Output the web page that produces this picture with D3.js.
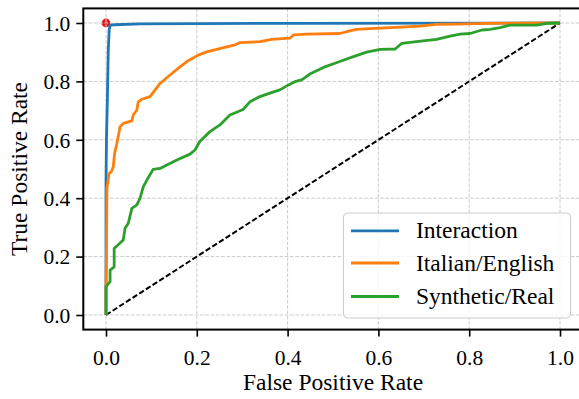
<!DOCTYPE html>
<html>
<head>
<meta charset="utf-8">
<script src="https://cdn.jsdelivr.net/npm/d3@7"></script>
<style>
html,body{margin:0;padding:0;background:#fff;}
svg{display:block;}
</style>
</head>
<body>
<svg id="chart" width="579" height="399"></svg>
<script>
// ---- data ----
const seriesNames = ["Interaction", "Italian/English", "Synthetic/Real"];
const seriesColors = ["#1f77b4", "#ff7f0e", "#2ca02c"];

const interactionFpr = [0, 0, 0.000, 0.001, 0.003, 0.005, 0.007, 0.009, 0.02, 0.075, 0.4, 1.0];
const interactionTpr = [0, 0.19, 0.45, 0.60, 0.736, 0.907, 0.976, 0.993, 0.994, 0.997, 0.999, 1.0];

const italianFpr = [0, 0, 0.001, 0.002, 0.007, 0.012, 0.016, 0.019, 0.024, 0.031, 0.038, 0.057, 0.060, 0.068, 0.071, 0.079, 0.097,
  0.119, 0.141, 0.163, 0.178, 0.203, 0.222, 0.244, 0.266, 0.284, 0.295, 0.339, 0.365, 0.405, 0.413, 0.442, 0.515,
  0.537, 0.552, 0.581, 0.626, 0.692, 0.728, 0.772, 0.838, 1.0];
const italianTpr = [0, 0.103, 0.211, 0.434, 0.485, 0.491, 0.508, 0.554, 0.588, 0.645, 0.656, 0.665, 0.685, 0.702, 0.730, 0.739, 0.748,
  0.793, 0.822, 0.850, 0.868, 0.890, 0.901, 0.910, 0.918, 0.925, 0.933, 0.936, 0.944, 0.948, 0.959, 0.962, 0.964,
  0.973, 0.978, 0.981, 0.984, 0.989, 0.995, 0.996, 0.999, 1.0];

const syntheticFpr = [0, 0, 0.009, 0.009, 0.018, 0.018, 0.038, 0.042, 0.049, 0.057, 0.068, 0.075, 0.082, 0.090, 0.104, 0.119,
  0.134, 0.156, 0.185, 0.196, 0.207, 0.229, 0.251, 0.273, 0.302, 0.317, 0.339, 0.361, 0.383, 0.402, 0.416, 0.431,
  0.449, 0.479, 0.515, 0.545, 0.574, 0.604, 0.637, 0.651, 0.684, 0.728, 0.758, 0.780, 0.802, 0.828, 0.846, 0.868,
  0.890, 0.949, 0.971, 1.0];
const syntheticTpr = [0, 0.097, 0.114, 0.154, 0.165, 0.228, 0.257, 0.297, 0.314, 0.365, 0.377, 0.400, 0.439, 0.462, 0.499, 0.502,
  0.514, 0.531, 0.551, 0.565, 0.595, 0.628, 0.651, 0.685, 0.704, 0.730, 0.748, 0.760, 0.771, 0.788, 0.799, 0.805,
  0.825, 0.848, 0.868, 0.885, 0.900, 0.910, 0.911, 0.930, 0.936, 0.944, 0.955, 0.962, 0.964, 0.976, 0.978, 0.984,
  0.993, 0.993, 0.999, 1.0];

const chancePoints = [[0, 0], [1, 1]];
const markerPoint = [0, 1];
const xTicks = [0, 0.2, 0.4, 0.6, 0.8, 1.0];
const yTicks = [0, 0.2, 0.4, 0.6, 0.8, 1.0];
const xLabel = "False Positive Rate";
const yLabel = "True Positive Rate";

// ---- layout ----
const FONT = "'Liberation Serif', 'DejaVu Serif', serif";
const svg = d3.select("#chart");
const plot = {left: 83.3, right: 582.7, top: 8.4, bottom: 329.6};
const x = d3.scaleLinear().domain([-0.05, 1.05]).range([plot.left, plot.right]);
const y = d3.scaleLinear().domain([-0.05, 1.05]).range([plot.bottom, plot.top]);
const tickFont = 21.5, labelFont = 23.5;

const series = [
  {name: seriesNames[0], color: seriesColors[0], pts: d3.zip(interactionFpr, interactionTpr)},
  {name: seriesNames[1], color: seriesColors[1], pts: d3.zip(italianFpr, italianTpr)},
  {name: seriesNames[2], color: seriesColors[2], pts: d3.zip(syntheticFpr, syntheticTpr)}
];

// red marker (below grid)
svg.append("circle")
  .attr("cx", x(markerPoint[0])).attr("cy", y(markerPoint[1]))
  .attr("r", 4.4).attr("fill", "#e41a1c");

// grid
const grid = svg.append("g");
grid.selectAll("line.gx").data(xTicks).join("line")
  .attr("x1", d => x(d)).attr("x2", d => x(d))
  .attr("y1", plot.top).attr("y2", plot.bottom)
  .attr("stroke", "#cccccc").attr("stroke-width", 1).attr("stroke-dasharray", "3.7,1.6");
grid.selectAll("line.gy").data(yTicks).join("line")
  .attr("y1", d => y(d)).attr("y2", d => y(d))
  .attr("x1", plot.left).attr("x2", plot.right)
  .attr("stroke", "#cccccc").attr("stroke-width", 1).attr("stroke-dasharray", "3.7,1.6");

// chance line
const line = d3.line().x(d => x(d[0])).y(d => y(d[1]));
svg.append("path").datum(chancePoints).attr("d", line)
  .attr("fill", "none").attr("stroke", "#000").attr("stroke-width", 2)
  .attr("stroke-dasharray", "5.5,2.4");

// curves
series.forEach(s => {
  svg.append("path").datum(s.pts).attr("d", line)
    .attr("fill", "none").attr("stroke", s.color).attr("stroke-width", 2.8)
    .attr("stroke-linejoin", "round").attr("stroke-linecap", "butt");
});

// axes
const xAxis = d3.axisBottom(x).tickValues(xTicks).tickFormat(d3.format(".1f")).tickSizeOuter(0).tickSize(7).tickPadding(8);
const yAxis = d3.axisLeft(y).tickValues(yTicks).tickFormat(d3.format(".1f")).tickSizeOuter(0).tickSize(7).tickPadding(6);
const gx = svg.append("g").attr("transform", `translate(0,${plot.bottom})`).call(xAxis);
const gy = svg.append("g").attr("transform", `translate(${plot.left},0)`).call(yAxis);
[gx, gy].forEach(g => {
  g.attr("font-family", FONT).attr("font-size", tickFont);
  g.select(".domain").remove();
  g.selectAll(".tick line").attr("stroke", "#000").attr("stroke-width", 1.6);
  g.selectAll(".tick text").style("font-family", FONT).style("font-size", tickFont + "px").attr("fill", "#000");
});
gx.selectAll(".tick text").attr("dy", "0.95em");
gy.selectAll(".tick text").attr("dy", "0.34em");

// spines
svg.append("rect")
  .attr("x", plot.left).attr("y", plot.top)
  .attr("width", plot.right - plot.left).attr("height", plot.bottom - plot.top)
  .attr("fill", "none").attr("stroke", "#000").attr("stroke-width", 2);

// axis labels
svg.append("text").attr("x", (plot.left + plot.right) / 2).attr("y", 390)
  .attr("text-anchor", "middle").style("font-family", FONT).style("font-size", labelFont + "px").text(xLabel);
svg.append("text").attr("transform", `translate(27,${(plot.top + plot.bottom) / 2}) rotate(-90)`)
  .attr("text-anchor", "middle").style("font-family", FONT).style("font-size", labelFont + "px").text(yLabel);

// legend
const lg = svg.append("g");
lg.append("rect").attr("x", 343.5).attr("y", 213).attr("width", 227).attr("height", 105)
  .attr("rx", 4).attr("fill", "#fff").attr("fill-opacity", 0.8)
  .attr("stroke", "#cccccc").attr("stroke-width", 1);
const rowY = [230.8, 263, 296.5];
series.forEach((s, i) => {
  lg.append("line").attr("x1", 351).attr("x2", 399).attr("y1", rowY[i]).attr("y2", rowY[i])
    .attr("stroke", s.color).attr("stroke-width", 2.8);
  lg.append("text").attr("x", 416).attr("y", rowY[i] + 7.6)
    .style("font-family", FONT).style("font-size", labelFont + "px").text(s.name);
});
</script>
</body>
</html>
